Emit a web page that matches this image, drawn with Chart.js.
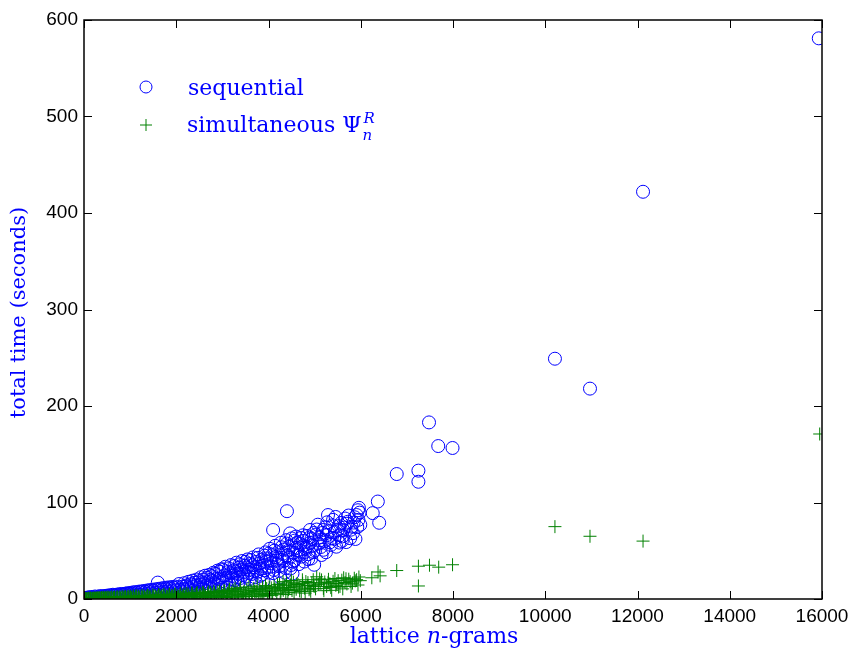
<!DOCTYPE html>
<html>
<head>
<meta charset="utf-8">
<script src="https://cdn.jsdelivr.net/npm/chart.js@4/dist/chart.umd.min.js"></script>
<style>
  html, body { margin: 0; padding: 0; background: #fff; }
  #wrap { width: 851px; height: 652px; }
</style>
</head>
<body>
<div id="wrap"><canvas id="myChart" width="851" height="652"></canvas></div>
<script>
// values: [lattice n-grams, total time in seconds]
var sequentialPoints = [
  [15,0.2],[40,0.5],[65,0.3],[90,0.8],[120,0.4],[150,1.0],[175,0.6],[200,1.2],[230,0.7],[260,1.5],
  [290,0.9],[320,1.7],[350,1.1],[380,2.0],[410,0.8],[440,2.3],[470,1.4],[500,2.9],[530,1.0],[560,2.6],
  [600,1.7],[640,3.4],[680,2.1],[710,1.2],[750,3.8],[790,2.6],[830,4.3],[870,1.8],[910,4.9],[950,3.1],[985,5.4],
  [25,1.1],[55,0.9],[85,1.6],[135,1.9],[185,2.1],[240,2.6],[300,1.8],[340,3.0],[395,2.9],[455,3.2],
  [515,3.6],[575,3.9],[625,4.4],[665,4.0],[720,4.6],[770,4.9],[815,5.2],[860,5.0],[900,5.6],[940,5.9],[975,5.7],
  [1020,2.2],[1050,5.8],[1080,3.6],[1110,1.9],[1140,6.3],[1170,4.1],[1200,2.7],[1230,6.9],[1260,4.6],[1290,3.0],
  [1320,7.4],[1350,5.2],[1380,2.4],[1410,8.0],[1440,5.9],[1470,3.7],[1500,8.6],[1530,6.3],[1560,4.2],[1590,9.1],
  [1600,17.0],[1630,6.8],[1660,3.4],[1690,9.7],[1720,7.3],[1750,4.9],[1780,10.2],[1810,7.9],[1840,5.5],[1870,10.8],
  [1900,8.4],[1930,3.9],[1960,11.4],[1990,9.0],[2010,6.1],
  [1005,6.2],[1065,6.9],[1125,7.1],[1185,7.6],[1245,7.9],[1305,8.3],[1365,8.8],[1425,9.2],[1485,9.6],[1545,10.0],
  [1615,10.5],[1675,10.9],[1735,11.3],[1795,11.8],[1855,12.1],[1915,12.4],[1975,12.9],
  [2040,12.1],[2070,9.6],[2100,4.8],[2130,12.8],[2160,10.3],[2190,7.2],[2220,14.0],[2250,11.2],[2280,5.6],[2310,15.3],
  [2340,12.4],[2370,8.7],[2400,16.8],[2430,13.6],[2460,6.9],[2490,18.4],[2520,14.9],[2550,10.4],[2580,20.1],[2610,16.2],
  [2640,8.3],[2670,21.9],[2700,17.7],[2730,12.5],[2760,23.6],[2790,19.2],[2820,9.8],[2850,26.0],[2880,21.0],[2910,14.7],
  [2940,28.3],[2970,22.6],[2990,11.4],
  [2060,15.5],[2115,8.0],[2175,16.4],[2205,12.9],[2265,17.8],[2295,9.9],[2355,19.0],[2385,14.4],[2445,20.2],[2475,11.7],
  [2535,22.5],[2565,17.3],[2625,24.1],[2655,13.8],[2715,25.0],[2745,19.9],[2805,27.2],[2835,16.0],[2895,29.4],[2925,20.8],[2985,31.0],
  [3020,30.1],[3050,24.5],[3080,17.2],[3110,12.0],[3140,31.8],[3170,26.7],[3200,20.3],[3230,14.6],[3260,34.2],[3290,28.4],
  [3320,22.1],[3350,16.9],[3380,36.0],[3410,30.6],[3440,24.8],[3470,18.3],[3500,38.5],[3530,32.7],[3560,27.0],[3590,20.6],
  [3620,40.4],[3650,34.9],[3680,29.1],[3710,22.5],[3740,16.4],[3770,42.6],[3800,36.8],[3830,31.2],[3860,25.3],[3890,19.0],
  [3920,44.9],[3950,38.7],[3980,33.0],
  [3010,18.6],[3065,33.4],[3095,22.0],[3125,27.9],[3155,15.3],[3185,35.1],[3215,24.0],[3245,29.6],[3275,19.5],[3305,37.6],
  [3335,26.2],[3365,32.4],[3395,21.8],[3425,39.3],[3455,28.0],[3485,34.5],[3515,23.4],[3545,41.0],[3575,30.2],[3605,36.3],
  [3635,25.9],[3665,43.1],[3695,32.8],[3725,38.4],[3755,28.1],[3785,46.2],[3815,24.0],[3845,40.5],[3875,34.3],[3905,29.8],
  [3935,48.3],[3965,42.0],[3995,27.5],
  [4010,47.1],[4040,40.3],[4070,33.5],[4100,71.5],[4100,26.8],[4130,50.2],[4160,43.7],[4190,36.4],[4220,29.0],[4250,22.3],
  [4280,53.6],[4310,46.9],[4340,39.5],[4370,32.1],[4400,91.0],[4400,57.4],[4430,50.0],[4460,42.8],[4470,68.0],[4490,35.2],
  [4520,26.4],[4540,38.6],[4570,60.5],[4600,53.1],[4610,58.0],[4640,46.0],[4680,45.6],[4710,63.2],[4750,66.0],[4760,55.4],
  [4790,48.7],[4830,54.0],[4860,41.3],[4900,71.5],[4900,58.0],[4930,62.1],[4970,49.0],[4990,35.5],
  [4025,52.0],[4055,36.9],[4085,45.5],[4115,30.2],[4145,55.1],[4175,39.8],[4205,48.6],[4235,33.9],[4265,58.2],[4295,42.5],
  [4325,51.3],[4355,27.4],[4385,61.0],[4415,45.2],[4445,54.0],[4475,31.6],[4505,62.8],[4535,47.9],[4565,40.2],[4595,64.7],
  [4625,50.6],[4655,36.1],[4685,57.0],[4715,44.0],[4745,60.2],[4775,38.8],[4805,52.4],[4835,65.3],[4865,46.5],[4895,63.8],
  [4925,42.0],[4955,55.6],[4985,68.4],
  [5030,66.8],[5070,77.0],[5090,57.3],[5120,61.0],[5150,45.6],[5190,71.5],[5190,51.0],[5230,74.2],[5260,66.0],[5290,87.0],
  [5330,58.7],[5370,63.0],[5400,82.0],[5440,69.4],[5470,54.2],[5520,75.6],[5550,66.0],[5590,60.1],[5620,71.5],[5660,83.4],
  [5700,78.0],[5720,80.0],[5770,63.0],[5800,75.0],[5830,68.2],[5870,84.7],[5910,87.0],[5940,92.0],[5950,82.0],[5960,94.5],
  [5990,77.0],
  [5010,50.3],[5045,72.0],[5105,64.1],[5135,53.9],[5175,68.5],[5215,60.0],[5245,48.5],[5275,79.5],[5315,70.3],[5355,56.1],
  [5385,76.4],[5425,62.3],[5455,85.0],[5495,71.2],[5535,58.5],[5575,78.8],[5605,64.9],[5645,74.0],[5685,59.0],[5735,86.5],
  [5785,71.8],[5845,79.2],[5885,62.2],[5925,74.5],[5975,89.5],
  [6260,89],[6370,101],[6400,79],[6780,129.5],[7250,133],[7250,121.5],[7480,183],[7680,158.5],[7990,156.5],
  [10210,249],[10970,218],[12120,422],[15930,581]
]

var simultaneousPoints = [
  [10,0.0],[30,0.2],[50,0.1],[70,0.3],[90,0.2],[110,0.4],[130,0.1],[150,0.5],[170,0.3],[190,0.6],
  [210,0.2],[230,0.7],[250,0.4],[270,0.8],[290,0.3],[310,0.9],[330,0.5],[350,1.0],[370,0.4],[390,1.1],
  [410,0.6],[430,1.2],[450,0.5],[470,1.3],[490,0.7],[520,1.4],[550,0.8],[580,1.5],[610,0.6],[640,1.6],
  [670,0.9],[700,1.7],[730,1.0],[760,1.8],[790,0.8],[820,1.9],[850,1.1],[880,2.0],[910,1.2],[940,2.1],[970,0.9],[995,2.2],
  [20,0.8],[60,0.6],[100,0.9],[140,1.1],[180,0.9],[220,1.3],[260,1.2],[300,1.5],[340,1.3],[380,1.6],
  [420,1.8],[460,1.7],[500,2.0],[540,1.9],[600,2.3],[660,2.1],[720,2.5],[780,2.4],[840,2.8],[900,2.6],[960,3.0],
  [1030,1.3],[1060,2.4],[1090,0.7],[1120,2.6],[1150,1.5],[1180,3.0],[1210,0.9],[1240,2.8],[1270,1.7],[1300,3.2],
  [1330,1.1],[1360,2.5],[1390,3.4],[1420,1.9],[1450,0.8],[1480,3.1],[1510,2.2],[1540,3.6],[1570,1.3],[1600,2.7],
  [1630,3.8],[1660,1.6],[1690,2.9],[1720,4.0],[1750,1.0],[1780,3.3],[1810,2.1],[1840,4.2],[1870,1.4],[1900,3.5],
  [1930,2.4],[1960,4.4],[1990,1.8],
  [1010,2.9],[1075,3.3],[1135,3.5],[1195,2.0],[1255,3.7],[1315,2.3],[1375,4.0],[1435,2.8],[1495,4.3],[1555,2.5],
  [1615,4.6],[1675,3.6],[1735,4.9],[1795,2.7],[1855,5.0],[1915,3.3],[1975,5.3],
  [2020,3.8],[2050,2.6],[2080,4.6],[2110,1.5],[2140,3.9],[2170,5.0],[2200,2.2],[2230,4.2],[2260,5.3],[2290,1.2],
  [2320,3.5],[2350,5.6],[2380,2.7],[2410,4.8],[2440,6.0],[2470,1.9],[2500,3.9],[2530,5.4],[2560,2.5],[2590,6.4],
  [2620,4.4],[2650,1.4],[2680,5.8],[2710,3.2],[2740,6.8],[2770,4.9],[2800,2.2],[2830,6.1],[2860,3.7],[2890,7.3],
  [2920,5.2],[2950,1.7],[2980,6.6],
  [2035,1.0],[2095,5.6],[2155,2.8],[2215,6.0],[2275,3.2],[2335,6.4],[2395,0.9],[2455,6.7],[2515,2.4],[2575,7.0],
  [2635,3.6],[2695,7.4],[2755,1.8],[2815,7.9],[2875,2.9],[2935,8.3],[2995,3.4],
  [3020,4.1],[3050,7.7],[3080,2.6],[3110,5.9],[3140,8.4],[3170,3.3],[3200,6.5],[3230,9.0],[3260,1.9],[3290,5.0],
  [3320,7.8],[3350,3.8],[3380,9.6],[3410,6.1],[3440,2.4],[3470,8.2],[3500,4.7],[3530,10.3],[3560,6.9],[3590,3.0],
  [3620,8.8],[3650,5.4],[3680,11.0],[3710,7.4],[3745,7.6],[3780,3.9],[3810,9.9],[3840,6.0],[3870,12.2],[3900,4.5],
  [3930,8.6],[3960,10.8],[3990,5.7],
  [3035,9.0],[3095,1.5],[3155,10.2],[3215,4.4],[3275,11.0],[3335,2.2],[3395,11.8],[3455,5.3],[3515,3.1],[3575,12.6],
  [3635,2.6],[3695,8.0],[3755,13.3],[3815,5.0],[3875,2.8],[3935,13.9],[3975,3.5],
  [4030,7.6],[4060,11.5],[4090,4.9],[4120,13.2],[4150,9.1],[4180,6.0],[4210,12.0],[4240,15.3],[4270,8.2],[4300,10.7],
  [4320,9.0],[4350,13.8],[4390,16.5],[4420,6.9],[4450,11.9],[4480,14.6],[4510,8.8],[4540,17.4],[4570,12.6],[4600,10.1],
  [4640,15.0],[4680,13.5],[4710,7.8],[4740,16.2],[4780,11.3],[4810,18.1],[4850,14.0],[4880,9.6],[4900,11.0],[4940,16.8],
  [4970,20.0],[4990,13.0],
  [4015,12.5],[4075,3.8],[4135,10.4],[4195,14.8],[4255,5.4],[4315,18.0],[4375,4.6],[4435,9.7],[4495,19.2],[4555,6.4],
  [4615,15.8],[4675,8.4],[4735,19.9],[4795,6.1],[4855,17.0],[4915,8.0],[4975,14.2],
  [5045,23.0],[5080,15.2],[5120,16.5],[5150,19.8],[5190,11.0],[5220,17.6],[5260,13.0],[5300,20.4],[5330,15.8],[5370,9.0],
  [5400,18.3],[5440,21.2],[5480,16.0],[5520,12.4],[5550,13.0],[5590,19.5],[5630,22.0],[5660,17.1],[5700,15.6],[5740,20.5],
  [5770,18.0],[5820,16.4],[5860,21.5],[5910,20.0],[5940,14.5],[5960,22.8],
  [5020,10.5],[5110,20.8],[5200,8.6],[5290,16.9],[5350,11.8],[5460,14.2],[5510,19.0],[5610,10.5],[5680,21.0],[5790,13.0],
  [5880,18.8],[5990,19.0],
  [6240,22.0],[6375,28.0],[6420,24.0],[6780,29.5],[7250,34.0],[7250,13.5],[7490,35.0],[7690,33.0],[7990,35.5],
  [10210,75],[10970,65],[12120,60],[15950,171]
]

var xTickValues = [0, 2000, 4000, 6000, 8000, 10000, 12000, 14000, 16000]
var yTickValues = [0, 100, 200, 300, 400, 500, 600]

var seqColor = '#0000ff'
var simColor = '#008000'
var labelColor = '#0000ff'

function toXY(list) {
  return list.map(function(p) { return { x: p[0], y: p[1] } })
}

// box round the plot area and inward ticks on all four sides (matlab look)
var frameTicks = {
  id: 'frameTicks',
  afterDraw: function(chart) {
    var ctx = chart.ctx
    var a = chart.chartArea
    var xs = chart.scales.x
    var ys = chart.scales.y
    var len = 8
    ctx.save()
    ctx.strokeStyle = '#000'
    ctx.lineWidth = 1
    xs.ticks.forEach(function(t) {
      var px = Math.round(xs.getPixelForValue(t.value)) + 0.5
      ctx.beginPath()
      ctx.moveTo(px, a.bottom); ctx.lineTo(px, a.bottom - len)
      ctx.moveTo(px, a.top); ctx.lineTo(px, a.top + len)
      ctx.stroke()
    })
    ys.ticks.forEach(function(t) {
      var py = Math.round(ys.getPixelForValue(t.value)) + 0.5
      ctx.beginPath()
      ctx.moveTo(a.left, py); ctx.lineTo(a.left + len, py)
      ctx.moveTo(a.right, py); ctx.lineTo(a.right - len, py)
      ctx.stroke()
    })
    ctx.lineWidth = 1.5
    ctx.strokeRect(a.left, a.top, a.right - a.left, a.bottom - a.top)
    ctx.restore()
  }
}

// axis titles and legend, drawn by hand for the italic / sub- and superscripts
var labelsAndLegend = {
  id: 'labelsAndLegend',
  afterDraw: function(chart) {
    var ctx = chart.ctx
    var a = chart.chartArea
    var serif = '"DejaVu Serif", serif'
    ctx.save()
    ctx.fillStyle = labelColor
    ctx.textBaseline = 'alphabetic'

    // y title
    ctx.save()
    ctx.font = '21px ' + serif
    ctx.translate(25, (a.top + a.bottom) / 2 + 3)
    ctx.rotate(-Math.PI / 2)
    ctx.textAlign = 'center'
    ctx.fillText('total time (seconds)', 0, 0)
    ctx.restore()

    // x title: lattice n-grams
    var parts = [['lattice ', ''], ['n', 'italic '], ['-grams', '']]
    var total = 0
    parts.forEach(function(p) { ctx.font = p[1] + '22px ' + serif; total += ctx.measureText(p[0]).width })
    var x = 434 - total / 2
    ctx.textAlign = 'left'
    parts.forEach(function(p) {
      ctx.font = p[1] + '22px ' + serif
      ctx.fillText(p[0], x, 643)
      x += ctx.measureText(p[0]).width
    })

    // legend
    var ds = chart.data.datasets
    ctx.lineWidth = 1
    ctx.strokeStyle = ds[1].borderColor
    ctx.beginPath()
    ctx.arc(146, 87, 6, 0, Math.PI * 2)
    ctx.stroke()
    ctx.strokeStyle = ds[0].borderColor
    ctx.beginPath()
    ctx.moveTo(140, 125); ctx.lineTo(152, 125)
    ctx.moveTo(146, 119); ctx.lineTo(146, 131)
    ctx.stroke()

    ctx.font = '22px ' + serif
    ctx.fillText(ds[1].label, 188, 95)
    var s = 'simultaneous \u03A8'
    ctx.fillText(s, 187, 132)
    var w = ctx.measureText(s).width
    ctx.font = 'italic 15px ' + serif
    ctx.fillText('R', 187 + w + 2, 123)
    ctx.fillText('n', 187 + w + 1, 140)
    ctx.restore()
  }
}

var ctx = document.getElementById('myChart')
var myChart = new Chart(ctx, {
  type: 'scatter',
  data: {
    datasets: [{
      label: 'simultaneous',
      data: toXY(simultaneousPoints),
      pointStyle: 'cross',
      pointRadius: 6.5,
      borderColor: simColor,
      backgroundColor: simColor,
      borderWidth: 1,
      order: 1
    }, {
      label: 'sequential',
      data: toXY(sequentialPoints),
      pointStyle: 'circle',
      pointRadius: 6.5,
      borderColor: seqColor,
      backgroundColor: 'rgba(0,0,0,0)',
      borderWidth: 1,
      order: 2
    }]
  },
  options: {
    responsive: false,
    animation: false,
    events: [],
    layout: { padding: { top: 20, right: 29, left: 0, bottom: 0 } },
    plugins: {
      legend: { display: false },
      tooltip: { enabled: false }
    },
    scales: {
      x: {
        type: 'linear',
        min: 0,
        max: 16000,
        afterBuildTicks: function(scale) {
          scale.ticks = xTickValues.map(function(v) { return { value: v } })
        },
        afterFit: function(scale) {
          scale.height = 53
          scale.paddingLeft = 0
          scale.paddingRight = 0
        },
        grid: { display: false, drawTicks: false },
        border: { display: false },
        ticks: {
          color: '#000',
          padding: 6,
          maxRotation: 0,
          autoSkip: false,
          callback: function(v) { return String(v) },
          font: { family: '"Liberation Sans", Arial, sans-serif', size: 19 }
        }
      },
      y: {
        type: 'linear',
        min: 0,
        max: 600,
        afterBuildTicks: function(scale) {
          scale.ticks = yTickValues.map(function(v) { return { value: v } })
        },
        afterFit: function(scale) {
          scale.width = 84
          scale.paddingTop = 0
          scale.paddingBottom = 0
        },
        grid: { display: false, drawTicks: false },
        border: { display: false },
        ticks: {
          color: '#000',
          padding: 6,
          autoSkip: false,
          callback: function(v) { return String(v) },
          font: { family: '"Liberation Sans", Arial, sans-serif', size: 19 }
        }
      }
    }
  },
  plugins: [frameTicks, labelsAndLegend]
})
</script>
</body>
</html>
